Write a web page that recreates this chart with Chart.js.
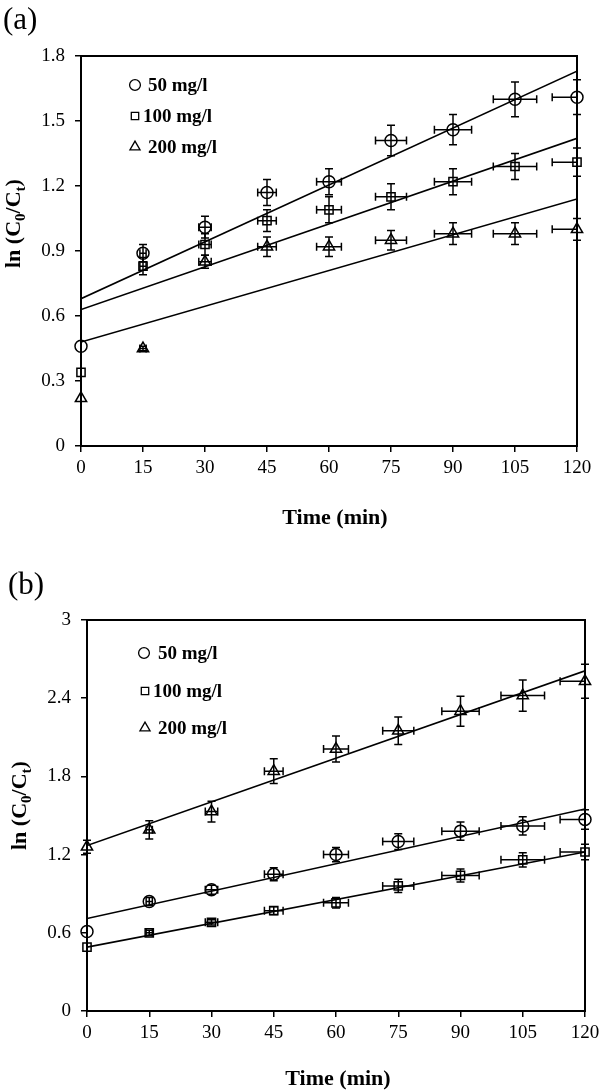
<!DOCTYPE html>
<html>
<head>
<meta charset="utf-8">
<script src="https://cdn.jsdelivr.net/npm/chart.js@4"></script>
<style>
  body { margin: 0; background: #fff; }
  #wrap { position: relative; width: 600px; height: 1092px; }
  canvas { position: absolute; left: 0; }
  #chart-a { top: 0; }
  #chart-b { top: 560px; }
</style>
</head>
<body>
<div id="wrap">
  <canvas id="chart-a" width="600" height="530"></canvas>
  <canvas id="chart-b" width="600" height="532"></canvas>
</div>
<script>
const times = [0, 15, 30, 45, 60, 75, 90, 105, 120];
const timeErr = [0, 0.75, 1.5, 2.25, 3, 3.75, 4.5, 5.25, 6];
const seriesLabels = ['50 mg/l', '100 mg/l', '200 mg/l'];
const fitTimes = [0, 120];

// panel (a)
const a50 = [0.46, 0.89, 1.01, 1.17, 1.22, 1.41, 1.46, 1.60, 1.61];
const a100 = [0.34, 0.83, 0.93, 1.04, 1.09, 1.15, 1.22, 1.29, 1.31];
const a200 = [0.22, 0.45, 0.85, 0.92, 0.92, 0.95, 0.98, 0.98, 1.00];
const a50Err = [0, 0.04, 0.05, 0.06, 0.06, 0.07, 0.07, 0.08, 0.08];
const a100Err = [0, 0.04, 0.05, 0.05, 0.06, 0.06, 0.06, 0.06, 0.065];
const a200Err = [0, 0.01, 0.03, 0.045, 0.045, 0.045, 0.05, 0.05, 0.05];
const a50Fit = [0.68, 1.73];
const a100Fit = [0.63, 1.42];
const a200Fit = [0.48, 1.14];
const yTicksA = [0, 0.3, 0.6, 0.9, 1.2, 1.5, 1.8];

// panel (b)
const b50 = [0.61, 0.84, 0.93, 1.05, 1.20, 1.30, 1.38, 1.42, 1.47];
const b100 = [0.49, 0.60, 0.68, 0.77, 0.83, 0.96, 1.04, 1.16, 1.22];
const b200 = [1.26, 1.39, 1.53, 1.84, 2.01, 2.15, 2.30, 2.42, 2.53];
const b50Err = [0, 0.03, 0.035, 0.05, 0.055, 0.06, 0.07, 0.07, 0.075];
const b100Err = [0, 0.02, 0.02, 0.03, 0.04, 0.05, 0.05, 0.055, 0.06];
const b200Err = [0.05, 0.07, 0.08, 0.095, 0.1, 0.105, 0.115, 0.12, 0.13];
const b50Fit = [0.71, 1.55];
const b100Fit = [0.49, 1.22];
const b200Fit = [1.27, 2.61];
const yTicksB = [0, 0.6, 1.2, 1.8, 2.4, 3];

const serif = '"Liberation Serif", "Times New Roman", serif';
const styles = ['circle', 'rect', 'triangle'];
const radii = [6, 5.8, 6.5];

const pts = (ys) => ys.map((v, i) => ({ x: times[i], y: v }));
const fitPts = (ys) => ys.map((v, i) => ({ x: fitTimes[i], y: v }));

function markerSet(i, ys, errs) {
    return {
        type: 'scatter',
        label: seriesLabels[i],
        data: pts(ys),
        errY: errs,
        errX: timeErr,
        pointStyle: styles[i],
        pointRadius: radii[i],
        pointHoverRadius: radii[i],
        borderColor: '#000',
        backgroundColor: 'rgba(0,0,0,0)',
        pointBorderWidth: 1.5,
        clip: false,
        order: 1
    };
}

function fitSet(ys) {
    return {
        type: 'line',
        data: fitPts(ys),
        borderColor: '#000',
        borderWidth: 1.6,
        pointRadius: 0,
        fill: false,
        tension: 0,
        order: 2
    };
}

const errorBars = {
    id: 'errorBars',
    afterDatasetsDraw(chart) {
        const { ctx, chartArea } = chart;
        const x = chart.scales.x, y = chart.scales.y;
        const cap = 4;
        ctx.save();
        ctx.strokeStyle = '#000';
        ctx.lineWidth = 1.5;
        chart.data.datasets.forEach((ds) => {
            if (!ds.errY) return;
            ds.data.forEach((p, i) => {
                const px = x.getPixelForValue(p.x);
                const py = y.getPixelForValue(p.y);
                const ey = ds.errY[i], ex = ds.errX[i];
                ctx.beginPath();
                if (ey > 0) {
                    const t = y.getPixelForValue(p.y + ey);
                    const b = y.getPixelForValue(p.y - ey);
                    ctx.moveTo(px, t); ctx.lineTo(px, b);
                    ctx.moveTo(px - cap, t); ctx.lineTo(px + cap, t);
                    ctx.moveTo(px - cap, b); ctx.lineTo(px + cap, b);
                }
                if (ex > 0) {
                    const l = x.getPixelForValue(p.x - ex);
                    const r = x.getPixelForValue(p.x + ex);
                    ctx.moveTo(Math.max(l, chartArea.left), py);
                    ctx.lineTo(Math.min(r, chartArea.right), py);
                    if (l >= chartArea.left - 0.5) { ctx.moveTo(l, py - cap); ctx.lineTo(l, py + cap); }
                    if (r <= chartArea.right + 0.5) { ctx.moveTo(r, py - cap); ctx.lineTo(r, py + cap); }
                }
                ctx.stroke();
            });
        });
        ctx.restore();
    }
};

// frame, panel letter, axis titles and legend
const decor = {
    id: 'decor',
    afterDraw(chart, args, opts) {
        const { ctx, chartArea: ca } = chart;
        ctx.save();
        ctx.strokeStyle = '#000';
        ctx.lineWidth = 2;
        ctx.strokeRect(ca.left, ca.top, ca.right - ca.left, ca.bottom - ca.top);

        ctx.fillStyle = '#000';
        ctx.textBaseline = 'alphabetic';
        ctx.textAlign = 'left';
        ctx.font = '31px ' + serif;
        ctx.fillText(opts.panel, opts.panelPos[0], opts.panelPos[1]);

        ctx.textAlign = 'center';
        ctx.font = 'bold 22px ' + serif;
        ctx.fillText('Time (min)', opts.xTitlePos[0], opts.xTitlePos[1]);

        // y title with subscripts
        ctx.save();
        ctx.translate(opts.yTitlePos[0], opts.yTitlePos[1]);
        ctx.rotate(-Math.PI / 2);
        ctx.textAlign = 'left';
        let cx = 0;
        [['ln (C', 0], ['0', 1], ['/C', 0], ['t', 1], [')', 0]].forEach(([s, sub]) => {
            ctx.font = 'bold ' + (sub ? 15 : 22) + 'px ' + serif;
            ctx.fillText(s, cx, sub ? 5 : 0);
            cx += ctx.measureText(s).width;
        });
        ctx.restore();

        // legend
        chart.data.datasets.forEach((ds) => {
            if (!ds.errY) return;
            const k = seriesLabels.indexOf(ds.label);
            const pos = opts.legend[k];
            ctx.strokeStyle = '#000';
            ctx.fillStyle = 'rgba(0,0,0,0)';
            ctx.lineWidth = 1.3;
            Chart.helpers.drawPoint(ctx, {
                pointStyle: ds.pointStyle, radius: ds.pointRadius * 0.9, borderWidth: 1.3, rotation: 0
            }, pos[0], pos[1]);
            ctx.fillStyle = '#000';
            ctx.textAlign = 'left';
            ctx.font = 'bold 19px ' + serif;
            ctx.fillText(ds.label, pos[2], pos[1] + 6);
        });
        ctx.restore();
    }
};

function makeConfig(sets, fits, yTicks, yMax, layout, decorOpts) {
    return {
        data: {
            datasets: [
                markerSet(0, sets[0][0], sets[0][1]),
                markerSet(1, sets[1][0], sets[1][1]),
                markerSet(2, sets[2][0], sets[2][1]),
                fitSet(fits[0]),
                fitSet(fits[1]),
                fitSet(fits[2])
            ]
        },
        options: {
            responsive: false,
            maintainAspectRatio: false,
            devicePixelRatio: 1,
            animation: false,
            events: [],
            layout: { autoPadding: false, padding: { top: layout.top, right: layout.right, bottom: 0, left: 0 } },
            plugins: {
                legend: { display: false },
                tooltip: { enabled: false },
                decor: decorOpts
            },
            scales: {
                x: {
                    type: 'linear',
                    min: 0,
                    max: 120,
                    afterBuildTicks: (s) => { s.ticks = times.map(v => ({ value: v })); },
                    afterFit: (s) => { s.height = layout.xh; s.paddingLeft = 0; s.paddingRight = 0; },
                    ticks: { color: '#000', font: { family: serif, size: 19 }, padding: 5, maxRotation: 0, callback: (v) => String(v) },
                    grid: { drawOnChartArea: false, drawTicks: true, tickLength: 6, color: '#000', lineWidth: 1.5 },
                    border: { display: true, color: '#000', width: 2 }
                },
                y: {
                    type: 'linear',
                    min: 0,
                    max: yMax,
                    afterBuildTicks: (s) => { s.ticks = yTicks.map(v => ({ value: v })); },
                    afterFit: (s) => { s.width = layout.yw; },
                    ticks: { color: '#000', font: { family: serif, size: 19 }, padding: 10, callback: (v) => String(v) },
                    grid: { drawOnChartArea: false, drawTicks: true, tickLength: 6, color: '#000', lineWidth: 1.5 },
                    border: { display: true, color: '#000', width: 2 }
                }
            }
        },
        plugins: [errorBars, decor]
    };
}

new Chart(document.getElementById('chart-a'), makeConfig(
    [[a50, a50Err], [a100, a100Err], [a200, a200Err]],
    [a50Fit, a100Fit, a200Fit],
    yTicksA, 1.8,
    { top: 56, right: 23, xh: 84, yw: 81 },
    {
        panel: '(a)', panelPos: [3, 29],
        xTitlePos: [335, 524], yTitlePos: [20, 268],
        legend: [[135, 85, 148], [135, 116, 143], [135, 147, 148]]
    }
));

new Chart(document.getElementById('chart-b'), makeConfig(
    [[b50, b50Err], [b100, b100Err], [b200, b200Err]],
    [b50Fit, b100Fit, b200Fit],
    yTicksB, 3,
    { top: 60, right: 15, xh: 81, yw: 87 },
    {
        panel: '(b)', panelPos: [8, 34],
        xTitlePos: [338, 525], yTitlePos: [26, 290],
        legend: [[144, 93, 158], [145, 131, 153], [145, 168, 158]]
    }
));
</script>
</body>
</html>
